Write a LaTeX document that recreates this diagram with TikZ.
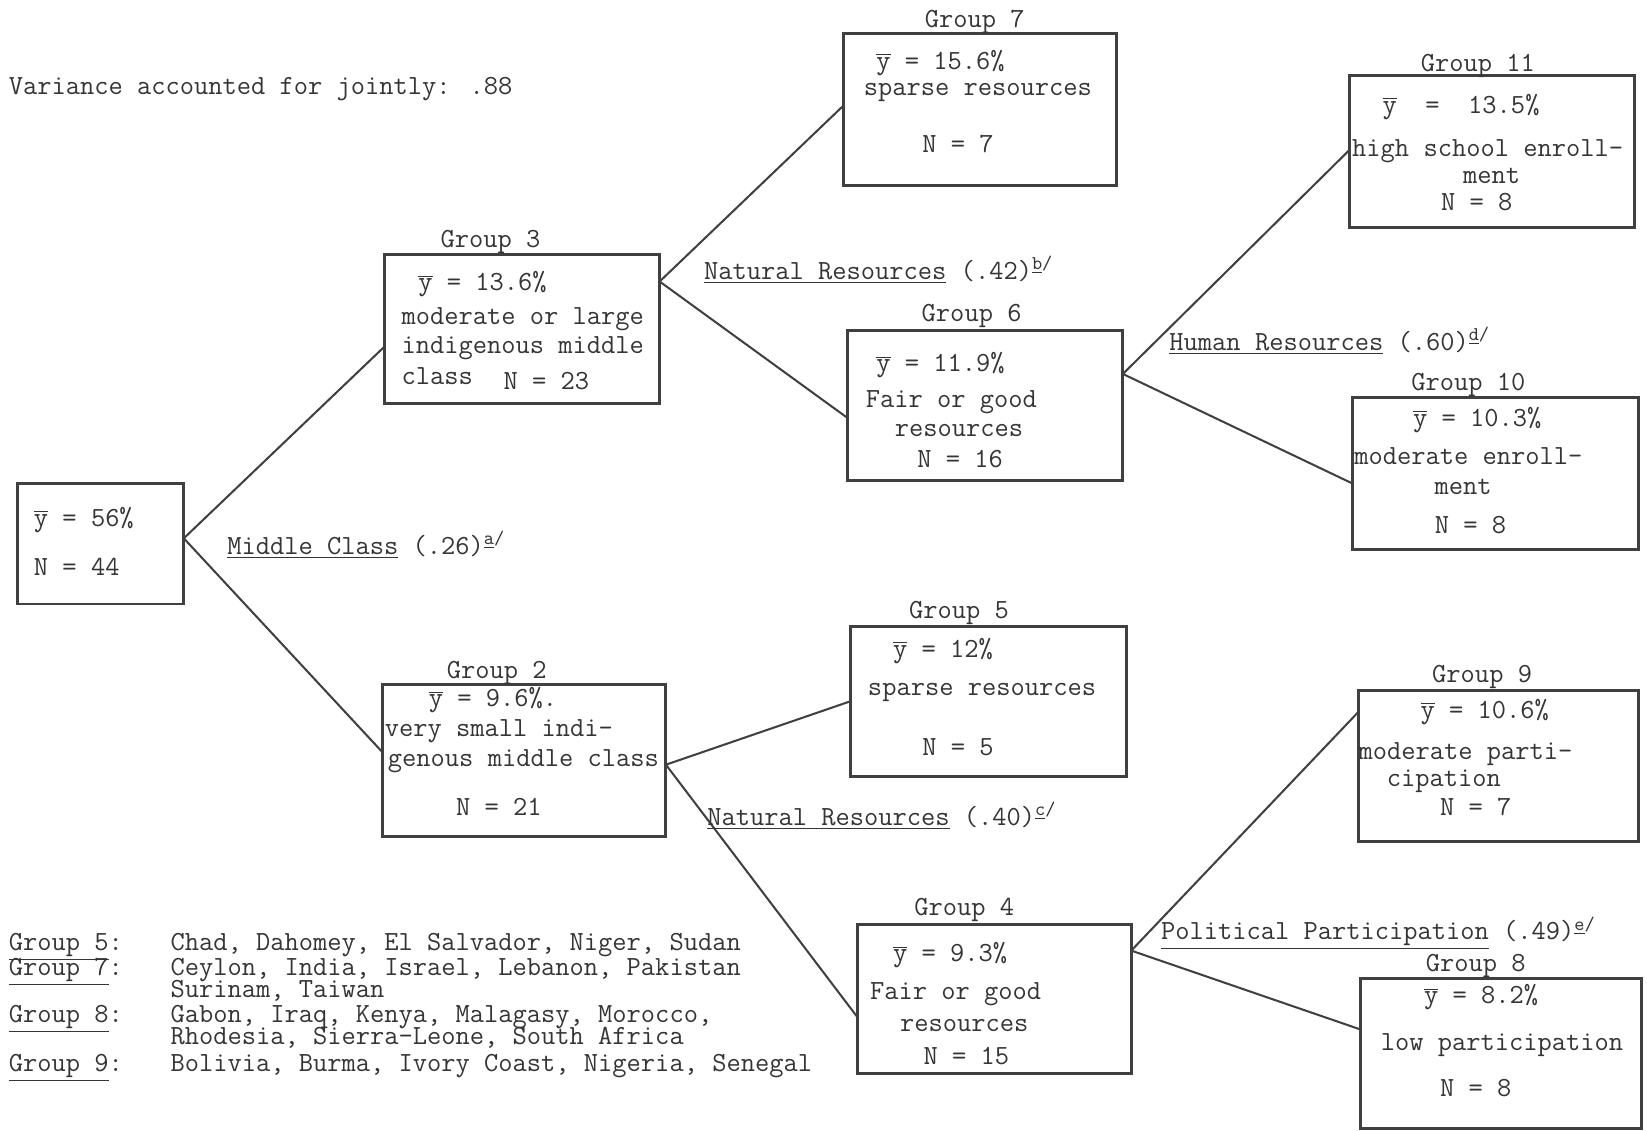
\documentclass[tikz,border=0pt]{standalone}
\usetikzlibrary{calc}
\definecolor{ink}{HTML}{353535}
\definecolor{lne}{HTML}{404040}
\newcommand{\yb}{$\overline{\mbox{y}}$}
\newcommand{\ulg}[1]{\smash{\underline{#1}}}
\newcommand{\gbox}[5]{\node[box, minimum width=#4*0.02cm, minimum height=#5*0.02cm] (#1) at (#2,#3) {};}
\begin{document}
\begin{tikzpicture}[x=0.02cm, y=-0.02cm,
  box/.style={draw=lne, line width=1.6pt, inner sep=0pt, outer sep=0pt},
  txt/.style={font=\fontsize{15}{18}\selectfont\ttfamily, text=ink, inner sep=0pt},
  lw/.style={txt, anchor=mid west},
  lc/.style={txt, anchor=mid},
  conn/.style={draw=lne, line width=1.1pt}]
\useasboundingbox (0,0) rectangle (1568,1076);
\fill[white] (0,0) rectangle (1568,1076);

% boxes
\gbox{root}{96}{517.5}{158}{115}
\gbox{g3}{497}{313}{262}{142}
\gbox{g2}{499}{724}{270}{144}
\gbox{g7}{933}{104.5}{260}{145}
\gbox{g6}{938}{386}{262}{142}
\gbox{g5}{941}{667.5}{262}{143}
\gbox{g4}{946.5}{951}{261}{142}
\gbox{g11}{1420.5}{144.5}{271}{145}
\gbox{g10}{1424}{450.5}{272}{145}
\gbox{g9}{1426.5}{729}{267}{144}
\gbox{g8}{1429}{1003}{268}{142}

% connectors
\draw[conn] ($(root.east)+(0,-5)$) -- ($(g3.west)+(0,17)$);
\draw[conn] ($(root.east)+(0,-5)$) -- ($(g2.west)+(0,-8)$);
\draw[conn] ($(g3.east)+(0,-45)$) -- ($(g7.west)+(0,-4)$);
\draw[conn] ($(g3.east)+(0,-45)$) -- ($(g6.west)+(0,12)$);
\draw[conn] ($(g2.east)+(0,4)$) -- (g5.west);
\draw[conn] ($(g2.east)+(0,4)$) -- ($(g4.west)+(0,17)$);
\draw[conn] ($(g6.east)+(0,-30)$) -- ($(g11.west)+(0,-2)$);
\draw[conn] ($(g6.east)+(0,-30)$) -- ($(g10.west)+(0,10)$);
\draw[conn] ($(g4.east)+(0,-46)$) -- ($(g9.west)+(0,-51)$);
\draw[conn] ($(g4.east)+(0,-46)$) -- ($(g8.west)+(0,-23)$);

% title
\node[lw] (title) at (8,86) {Variance accounted for jointly: .88};

% root
\node[lw] (r1) at (32,497) {\yb\ = 56\%};
\node[lw] (r2) at (32,544) {N = 44};

% group 3
\node[lc] (g3l) at (467,232) {Group 3};
\node[lw] (g3a) at (398,273) {\yb\ = 13.6\%};
\node[lw] (g3b) at (382,305) {moderate or large};
\node[lw] (g3c) at (382,333) {indigenous middle};
\node[lw] (g3d) at (382,362) {class};
\node[lw] (g3e) at (479,367) {N = 23};

% group 2
\node[lc] (g2l) at (473,642) {Group 2};
\node[lw] (g2a) at (408,669) {\yb\ = 9.6\%.};
\node[lw] (g2b) at (366,697) {very small indi-};
\node[lw] (g2c) at (369,726) {genous middle class};
\node[lc] (g2d) at (475,773) {N = 21};

% group 7
\node[lc] (g7l) at (928,22) {Group 7};
\node[lw] (g7a) at (834,62) {\yb\ = 15.6\%};
\node[lw] (g7b) at (822,87) {sparse resources};
\node[lc] (g7c) at (912,141) {N = 7};

% group 6
\node[lc] (g6l) at (925,302) {Group 6};
\node[lw] (g6a) at (834,350) {\yb\ = 11.9\%};
\node[lw] (g6b) at (824,384) {Fair or good};
\node[lc] (g6c) at (913,412) {resources};
\node[lc] (g6d) at (914,441) {N = 16};

% group 5
\node[lc] (g5l) at (913,585) {Group 5};
\node[lw] (g5a) at (850,622) {\yb\ = 12\%};
\node[lw] (g5b) at (826,658) {sparse resources};
\node[lc] (g5c) at (912,715) {N = 5};

% group 4
\node[lc] (g4l) at (918,868) {Group 4};
\node[lw] (g4a) at (850,912) {\yb\ = 9.3\%};
\node[lw] (g4b) at (828,948) {Fair or good};
\node[lc] (g4c) at (918,978) {resources};
\node[lc] (g4d) at (920,1010) {N = 15};

% group 11
\node[lc] (g11l) at (1407,64) {Group 11};
\node[lw] (g11a) at (1316,104) {\yb\ ~=~ 13.5\%};
\node[lw] (g11b) at (1287,145) {high school enroll-};
\node[lc] (g11c) at (1420,171) {ment};
\node[lc] (g11d) at (1406,197) {N = 8};

% group 10
\node[lc] (g10l) at (1398,368) {Group 10};
\node[lw] (g10a) at (1345,402) {\yb\ = 10.3\%};
\node[lw] (g10b) at (1289,438) {moderate enroll-};
\node[lc] (g10c) at (1393,467) {ment};
\node[lc] (g10d) at (1400,504) {N = 8};

% group 9
\node[lc] (g9l) at (1411,646) {Group 9};
\node[lw] (g9a) at (1352,680) {\yb\ = 10.6\%};
\node[lw] (g9b) at (1293,719) {moderate parti-};
\node[lw] (g9c) at (1320,745) {cipation};
\node[lc] (g9d) at (1405,773) {N = 7};

% group 8
\node[lc] (g8l) at (1405,921) {Group 8};
\node[lc] (g8a) at (1410,952) {\yb\ = 8.2\%};
\node[lc] (g8b) at (1430,996) {low participation};
\node[lc] (g8c) at (1405,1040) {N = 8};

% split labels
\node[lw] (s1) at (216,524) {\underline{Middle Class} (.26)\textsuperscript{\underline{a}/}};
\node[lw] (s2) at (670,262) {\underline{Natural Resources} (.42)\textsuperscript{\underline{b}/}};
\node[lw] (s3) at (1113,330) {\underline{Human Resources} (.60)\textsuperscript{\underline{d}/}};
\node[lw] (s4) at (673,782) {\underline{Natural Resources} (.40)\textsuperscript{\underline{c}/}};
\node[lw] (s5) at (1105,891) {\underline{Political Participation} (.49)\textsuperscript{\underline{e}/}};

% legend
\node[lw] (k5) at (8,901) {\ulg{Group 5}:};
\node[lw] (k5t) at (162,901) {Chad, Dahomey, El Salvador, Niger, Sudan};
\node[lw] (k7) at (8,925) {\ulg{Group 7}:};
\node[lw] (k7t) at (162,925) {Ceylon, India, Israel, Lebanon, Pakistan};
\node[lw] (k7u) at (162,946) {Surinam, Taiwan};
\node[lw] (k8) at (8,970) {\ulg{Group 8}:};
\node[lw] (k8t) at (162,970) {Gabon, Iraq, Kenya, Malagasy, Morocco,};
\node[lw] (k8u) at (162,991) {Rhodesia, Sierra-Leone, South Africa};
\node[lw] (k9) at (8,1016) {\ulg{Group 9}:};
\node[lw] (k9t) at (162,1016) {Bolivia, Burma, Ivory Coast, Nigeria, Senegal};
\end{tikzpicture}
\end{document}
